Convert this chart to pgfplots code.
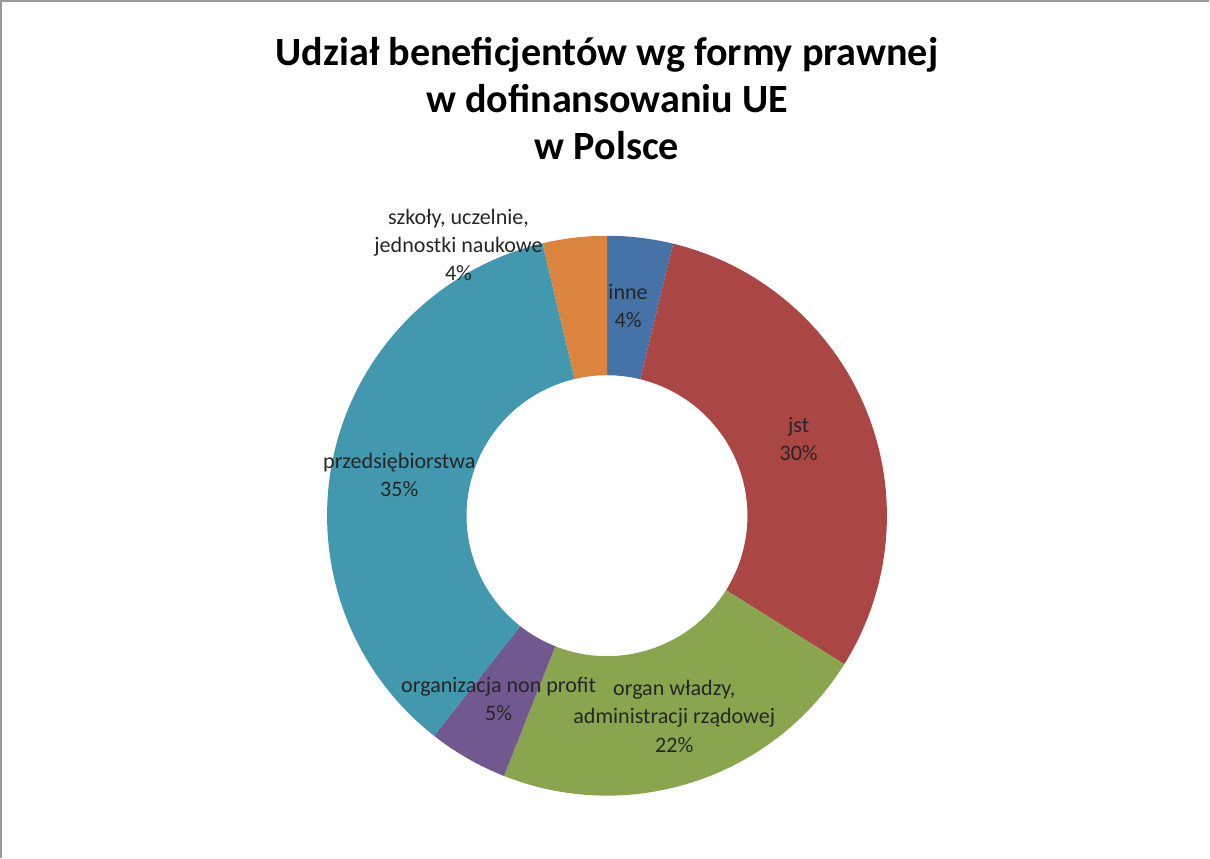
\documentclass[border=0pt]{standalone}
\usepackage{pgfplots}
\usepackage{pgfplotstable}
\pgfplotsset{compat=1.18}
\usepackage{fontspec}
\setmainfont{Carlito}
\definecolor{cA}{HTML}{4572A7}
\definecolor{cB}{HTML}{AA4643}
\definecolor{cC}{HTML}{89A54E}
\definecolor{cD}{HTML}{71588F}
\definecolor{cE}{HTML}{4198AF}
\definecolor{cF}{HTML}{DB843D}
\pgfplotstableread[col sep=comma]{
name,value,color
inne,3.8,cA
jst,30.1,cB
organ,22.1,cC
nonprofit,4.6,cD
przedsiebiorstwa,35.7,cE
szkoly,3.7,cF
}\shares
\begin{document}
\begin{tikzpicture}
\begin{axis}[
  width=605pt, height=430.5pt, scale only axis,
  xmin=0, xmax=1210, ymin=0, ymax=861,
  hide axis, clip=false,
]
\pgfplotstablegetrowsof{\shares}
\pgfmathtruncatemacro\N{\pgfplotsretval-1}
\def\cum{0}
\pgfplotsforeachungrouped \i in {0,...,\N}{%
  \pgfplotstablegetelem{\i}{value}\of\shares \let\v\pgfplotsretval
  \pgfplotstablegetelem{\i}{color}\of\shares \let\c\pgfplotsretval
  \pgfmathsetmacro\a{90-3.6*\cum}%
  \pgfmathsetmacro\b{90-3.6*(\cum+\v)}%
  \pgfmathsetmacro\cumnew{\cum+\v}%
  \global\let\cum\cumnew
  \edef\temp{\noexpand\fill[\c] ([shift={(\a:139.5pt)}]axis cs:610,341) arc[start angle=\a, end angle=\b, radius=139.5pt] -- ([shift={(\b:70pt)}]axis cs:610,341) arc[start angle=\b, end angle=\a, radius=70pt] -- cycle;}%
  \temp
}
% frame
\draw[gray!80, line width=1pt] (axis cs:6,0) -- (axis cs:6,854) -- (axis cs:1210,854);
% title
\node[font=\fontsize{20}{23.5}\selectfont\bfseries, align=center, anchor=north] at (axis cs:610,825)
  {Udział beneficjentów wg formy prawnej\\w dofinansowaniu UE\\w Polsce};
% labels
\begin{scope}[every node/.style={font=\fontsize{11}{14}\selectfont, align=center, text=black!85}]
\node at (axis cs:462,611) {szkoły, uczelnie,\\jednostki naukowe\\4\%};
\node at (axis cs:631,550) {inne\\4\%};
\node at (axis cs:801,417) {jst\\30\%};
\node at (axis cs:403,382) {przedsiębiorstwa\\35\%};
\node at (axis cs:502,158) {organizacja non profit\\5\%};
\node at (axis cs:677,141) {organ władzy,\\administracji rządowej\\22\%};
\end{scope}
\end{axis}
\end{tikzpicture}
\end{document}
